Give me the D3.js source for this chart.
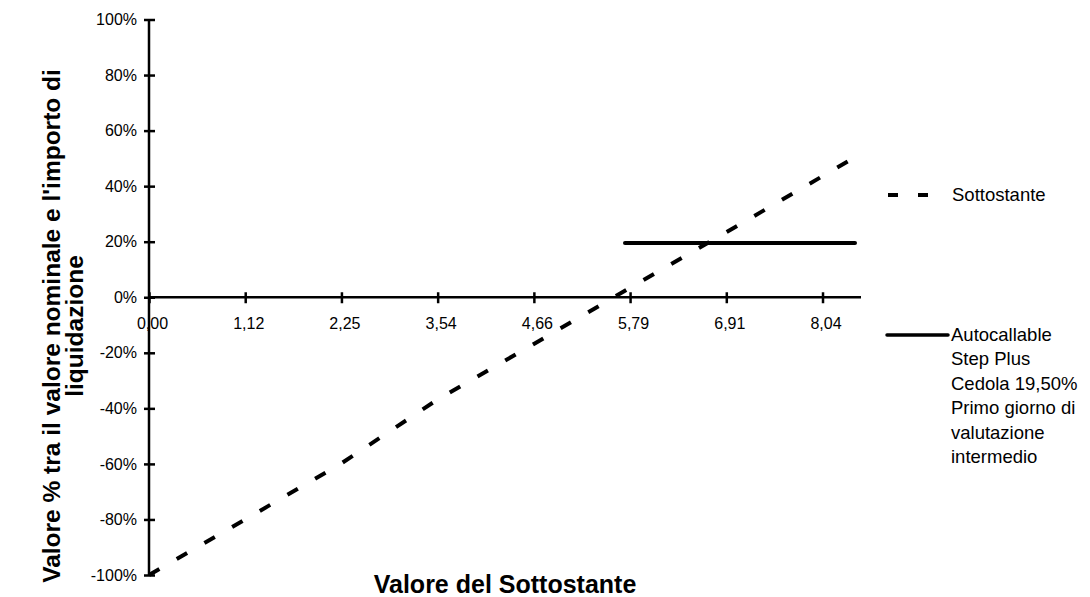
<!DOCTYPE html>
<html>
<head>
<meta charset="utf-8">
<script src="https://cdn.jsdelivr.net/npm/d3@7"></script>
<style>
  body { margin: 0; background: #fff; }
  svg { display: block; font-family: "Liberation Sans", Arial, sans-serif; }
</style>
</head>
<body>
<svg id="chart" width="1090" height="597"></svg>
<script>
// category labels of the x axis (equally spaced, uneven values)
const xTicks = [0.00, 1.12, 2.25, 3.54, 4.66, 5.79, 6.91, 8.04];
const xMax = 8.49;          // axis runs a bit past the last label
// dashed series: underlying value -> %
const sottoX = [0.00, 1.12, 2.25, 3.54, 4.66, 5.79, 6.91, 8.04, 8.42];
const sottoY = [-100, -80, -59.8, -36.8, -16.8, 3.4, 23.4, 43.6, 50.4];
// solid series
const autoX = [5.73, 8.42];
const autoY = [19.5, 19.5];
const yTicks = [-100, -80, -60, -40, -20, 0, 20, 40, 60, 80, 100];
const legendNames = ["Sottostante", "Autocallable\nStep Plus\nCedola 19,50%\nPrimo giorno di\nvalutazione\nintermedio"];

const svg = d3.select("#chart");

// labels are evenly spaced on the axis, so map value -> slot -> pixel
const slots = xTicks.map((d, i) => i).concat([7.4]);
const slot = d3.scaleLinear().domain(xTicks.concat([xMax])).range(slots);
const px = d3.scaleLinear().domain([0, 7.4]).range([149, 861]);
const x = d => px(slot(d));
const y = d3.scaleLinear().domain([-100, 100]).range([575, 19.5]);

const fmt = v => v.toFixed(2).replace(".", ",");

// y axis
const yAxis = svg.append("g").attr("transform", `translate(${x(0)},0)`)
  .call(d3.axisLeft(y).tickValues(yTicks).tickSize(0).tickPadding(12).tickFormat(d => d + "%"));
yAxis.select(".domain").remove();
yAxis.selectAll("text").attr("font-size", 16).attr("fill", "#000")
  .attr("font-family", "Liberation Sans, Arial, sans-serif");
yAxis.append("line").attr("x1", 0).attr("x2", 0).attr("y1", y(100)).attr("y2", y(-100))
  .attr("stroke", "#000").attr("stroke-width", 2.5);
yAxis.selectAll(".tick").append("line").attr("x1", -5).attr("x2", 6)
  .attr("stroke", "#000").attr("stroke-width", 2.5);

// x axis at 0%
const xAxis = svg.append("g").attr("transform", `translate(0,${y(0)})`)
  .call(d3.axisBottom(px).tickValues(slots.slice(0, xTicks.length)).tickSize(0).tickPadding(20)
    .tickFormat(i => fmt(xTicks[i])));
xAxis.select(".domain").remove();
xAxis.selectAll("text").attr("font-size", 16).attr("fill", "#000")
  .attr("font-family", "Liberation Sans, Arial, sans-serif").attr("dx", 3);
xAxis.append("line").attr("x1", x(0)).attr("x2", x(xMax))
  .attr("stroke", "#000").attr("stroke-width", 2.5);
xAxis.selectAll(".tick").append("line").attr("y1", -5).attr("y2", 6)
  .attr("stroke", "#000").attr("stroke-width", 2.5);

// series
const line = d3.line().x(d => x(d[0])).y(d => y(d[1]));

svg.append("path")
  .attr("d", line(sottoX.map((v, i) => [v, sottoY[i]])))
  .attr("fill", "none").attr("stroke", "#000").attr("stroke-width", 4)
  .attr("stroke-dasharray", "12,20");

svg.append("path")
  .attr("d", line(autoX.map((v, i) => [v, autoY[i]])))
  .attr("fill", "none").attr("stroke", "#000").attr("stroke-width", 4)
  .attr("stroke-linecap", "round");

// axis titles
svg.append("text").attr("x", 505).attr("y", 593).attr("text-anchor", "middle")
  .attr("font-size", 25).attr("font-weight", "bold").text("Valore del Sottostante");

const yt = svg.append("text").attr("transform", "translate(60,326) rotate(-90)")
  .attr("text-anchor", "middle").attr("font-size", 24.5).attr("font-weight", "bold");
yt.append("tspan").attr("x", 0).attr("dy", 0).text("Valore % tra il valore nominale e l'importo di");
yt.append("tspan").attr("x", 0).attr("dy", 23).text("liquidazione");

// legend
const lg = svg.append("g");
lg.append("line").attr("x1", 888).attr("x2", 948).attr("y1", 195).attr("y2", 195)
  .attr("stroke", "#000").attr("stroke-width", 4).attr("stroke-dasharray", "10,20");
lg.append("text").attr("x", 952).attr("y", 201).attr("font-size", 18.5).text(legendNames[0]);

lg.append("line").attr("x1", 887).attr("x2", 948).attr("y1", 335).attr("y2", 335)
  .attr("stroke", "#000").attr("stroke-width", 3.5).attr("stroke-linecap", "round");
const lt = lg.append("text").attr("x", 951).attr("y", 341).attr("font-size", 18.5);
legendNames[1].split("\n").forEach((s, i) => {
  lt.append("tspan").attr("x", 951).attr("dy", i ? 24.4 : 0).text(s);
});
</script>
</body>
</html>
